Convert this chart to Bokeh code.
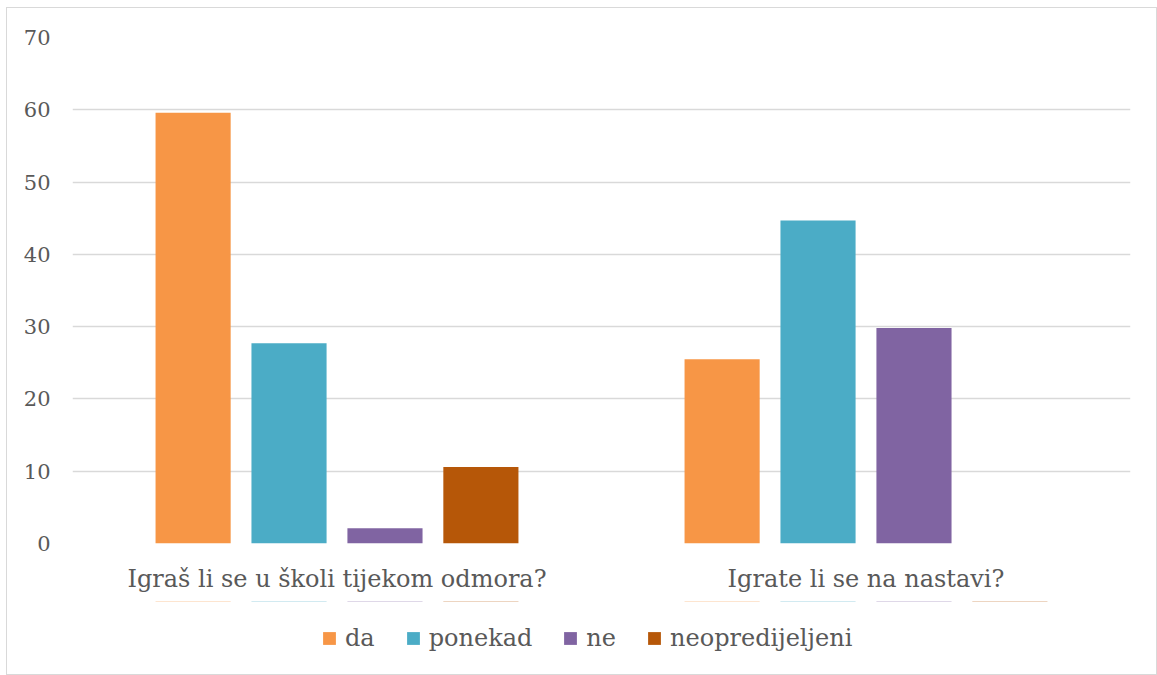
from bokeh.plotting import figure
from bokeh.layouts import column
from bokeh.models import FactorRange, ColumnDataSource, Legend, LegendItem, Range1d, FixedTicker
from bokeh.transform import dodge
from bokeh.embed import file_html
from bokeh.resources import INLINE

categories = ["Igraš li se u školi tijekom odmora?", "Igrate li se na nastavi?"]
series = ["da", "ponekad", "ne", "neopredijeljeni"]
da = [59.6, 25.5]
ponekad = [27.7, 44.7]
ne = [2.1, 29.8]
neopredijeljeni = [10.6, 0.0]
colors = ["#F79646", "#4BACC6", "#8064A2", "#B65708"]
y_ticks = [0, 10, 20, 30, 40, 50, 60, 70]

FONT = "DejaVu Serif"
TXT = "#595959"

src = ColumnDataSource(dict(cat=categories, da=da, ponekad=ponekad, ne=ne, neopredijeljeni=neopredijeljeni))

p = figure(x_range=FactorRange(*categories, range_padding=0), y_range=Range1d(0, 70),
           width=1149, height=593, output_backend="svg", toolbar_location=None,
           min_border_left=65, min_border_right=26, min_border_top=29, min_border_bottom=58)
p.outline_line_color = None
p.background_fill_color = "white"

offsets = [-0.272, -0.0907, 0.0907, 0.272]
for s, off, c in zip(series, offsets, colors):
    p.vbar(x=dodge("cat", off, range=p.x_range), top=s, width=0.142, source=src,
           fill_color=c, line_color=None)

p.xgrid.grid_line_color = None
p.ygrid.grid_line_color = "#d9d9d9"
p.ygrid.grid_line_width = 1.5
p.yaxis.ticker = FixedTicker(ticks=y_ticks)

for ax in (p.xaxis, p.yaxis):
    ax.axis_line_color = None
    ax.major_tick_line_color = None
    ax.minor_tick_line_color = None
    ax.major_tick_out = 0
    ax.major_tick_in = 0
    ax.major_label_text_color = TXT
    ax.major_label_text_font = FONT
p.yaxis.major_label_text_font_size = "21px"
p.yaxis.major_label_standoff = 22
p.xaxis.major_label_text_font_size = "24px"
p.xaxis.major_label_standoff = 21

# legend strip below the chart (same series as zero-height bars outside its visible range)
p2 = figure(width=1149, height=73, output_backend="svg", toolbar_location=None,
            x_range=p.x_range, y_range=Range1d(-2, -1), x_axis_type=None, y_axis_type=None,
            min_border_left=0, min_border_right=0, min_border_top=0, min_border_bottom=0)
p2.outline_line_color = None
p2.xgrid.visible = False
p2.ygrid.visible = False
items = []
for s, off, c in zip(series, offsets, colors):
    r = p2.vbar(x=dodge("cat", off, range=p.x_range), top=s, bottom=s, width=0.142, source=src,
                fill_color=c, line_color=None)
    items.append(LegendItem(label=s, renderers=[r]))
legend = Legend(items=items, orientation="horizontal", location=(249, 22),
                glyph_width=16, glyph_height=16, label_standoff=8, spacing=30,
                label_text_font=FONT, label_text_font_size="24px", label_text_color=TXT,
                border_line_color=None, background_fill_alpha=0, padding=0, margin=0)
p2.add_layout(legend, "center")

layout = column(p, p2, spacing=0, margin=(7, 0, 0, 6), styles={"border": "1px solid #d9d9d9"})

open("out.html", "w").write(file_html(layout, INLINE))
